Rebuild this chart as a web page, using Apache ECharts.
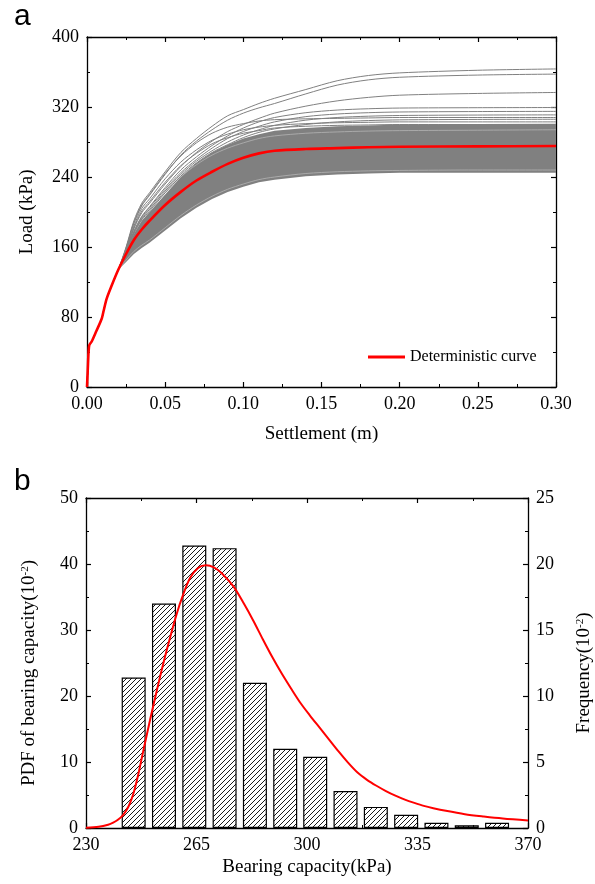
<!DOCTYPE html>
<html><head><meta charset="utf-8">
<script src="https://cdn.jsdelivr.net/npm/echarts@6/dist/echarts.min.js"></script>
<style>html,body{margin:0;padding:0;background:#fff}#c{width:595px;height:884px}</style>
</head><body><div id="c"></div><script>
// ---------- Panel a : load-settlement curves ----------
const initS    = [0, 0.0005, 0.001, 0.0015, 0.003, 0.006, 0.0094, 0.0105, 0.0126, 0.0158];
const initLoad = [0, 20, 40, 48, 52, 64, 78, 86, 101, 116];
const tailS    = [0.02, 0.025, 0.03, 0.035, 0.04, 0.05, 0.06, 0.07, 0.08, 0.09, 0.10, 0.11, 0.12, 0.14, 0.16, 0.18, 0.20, 0.25, 0.30];
const detTail  = [134, 152, 168, 180, 190, 208, 223, 236, 246, 255, 262, 267, 270, 272, 273, 274, 274.5, 275, 275.5];
const bandLower = [134, 143, 152, 159, 165, 179, 193, 205, 215, 223, 229, 234, 237, 241, 243, 244, 245, 245, 245];
const bandUpper = [134, 155, 175, 190, 200, 220, 240, 256, 268, 277, 284, 289, 293, 296, 298, 299, 300, 300.5, 301];
const grayA = [134, 160, 190, 210, 222, 246, 268, 284, 298, 310, 317, 324, 330, 340, 350, 356, 359, 362, 363.5];
const grayB = [134, 158, 187, 207, 219, 243, 265, 281, 294, 305, 313, 319, 324, 335, 345, 351, 354, 356.5, 357.6];
const grayC = [134, 156, 181, 199, 210, 232, 252, 268, 281, 292, 300, 307, 313, 321, 327, 331, 333.5, 335.5, 336.6];
const grayD = [134, 155, 178, 195, 206, 228, 248, 263, 276, 287, 296, 303, 308, 313.5, 316.5, 318, 318.8, 319.2, 319.4];
const grayE = [134, 155, 177, 194, 205, 226, 245, 260, 273, 284, 292, 298, 303, 309, 312, 313.5, 314.3, 314.8, 315];
const grayF = [134, 154, 176, 192, 203, 224, 243, 258, 270, 280, 288, 294, 299, 305, 308, 309.5, 310.3, 310.8, 311];
const grayG = [134, 154, 175, 191, 201, 222, 241, 256, 268, 277, 285, 291, 295, 300, 303, 304.5, 305.3, 305.8, 306];
const grayH = [134, 157, 184, 204, 215, 238, 257, 271, 282, 289, 294, 297, 299, 301, 302, 302.5, 303, 303, 303];
const grayI = [134, 156, 182, 201, 212, 234, 253, 267, 278, 285, 290, 293, 296, 298, 299, 299.5, 300, 300, 300];
const grayJ = [134, 159, 188, 208, 220, 244, 264, 279, 290, 297, 301, 304, 305.5, 306.5, 307, 307.5, 308, 308, 308];
const streakHigh = [134, 155, 178, 193, 203, 222, 240, 254, 265, 273, 279, 284, 287, 290, 291.5, 292.5, 293, 293.5, 294];
const streakLow  = [134, 145, 155, 162, 168, 182, 196, 208, 218, 226, 232, 237, 240, 244, 246, 247, 247.5, 248, 248];
const grayCurves = [grayA, grayB, grayC, grayD, grayE, grayF, grayG, grayH, grayI, grayJ];
const streakCurves = [streakHigh, streakLow];

// ---------- Panel b : bearing capacity distribution ----------
const binCenters = [245.1, 254.7, 264.3, 273.9, 283.5, 293.1, 302.6, 312.2, 321.8, 331.4, 341.0, 350.6, 360.2];
const frequency  = [11.4, 17.0, 21.4, 21.2, 11.0, 6.0, 5.4, 2.8, 1.6, 1.0, 0.4, 0.2, 0.4];
const pdfX = [230, 234, 237, 238.6, 240, 241.8, 243.5, 245, 246.5, 248.2, 250.3, 252.9, 255.6, 258.7, 260.8, 263, 265.5, 268, 270.5, 273, 276.7, 280, 283, 286, 289, 292, 295, 298, 301, 304, 307, 310, 313, 316, 319, 322, 325, 328, 331, 334, 337, 340, 344, 350, 356, 362, 370];
const pdfY = [0.05, 0.2, 0.5, 0.8, 1.2, 2.0, 3.3, 5.2, 8.0, 11.8, 16.4, 21.8, 27.0, 32.4, 35.4, 37.9, 39.4, 39.8, 39.5, 38.6, 36.6, 34.0, 31.4, 28.6, 25.9, 23.4, 21.1, 18.9, 17.0, 15.2, 13.4, 11.6, 9.9, 8.4, 7.3, 6.4, 5.6, 4.9, 4.3, 3.8, 3.35, 3.0, 2.6, 2.1, 1.75, 1.45, 1.15];

const SERIF = '"Liberation Serif","Times New Roman",serif';
const SANS = '"Liberation Sans",Arial,sans-serif';

function withInit(tail) {
  return initS.map((s, i) => [s, initLoad[i]]).concat(tailS.map((s, i) => [s, tail[i]]));
}
function axis(o) {
  return Object.assign({
    type: 'value',
    axisLine: { show: true, onZero: false, lineStyle: { color: '#000', width: 1.3 } },
    axisTick: { show: true, inside: true, length: 5, lineStyle: { color: '#000', width: 1.2 } },
    minorTick: { show: true, splitNumber: 2, length: 3, lineStyle: { color: '#000', width: 1 } },
    splitLine: { show: false },
    axisLabel: { show: true, color: '#000', fontFamily: SERIF, fontSize: 18, margin: 8 },
    nameTextStyle: { color: '#000', fontFamily: SERIF, fontSize: 19 }
  }, o);
}
function hatch() {
  const c = document.createElement('canvas');
  c.width = 5; c.height = 5;
  const g = c.getContext('2d');
  g.fillStyle = '#fff'; g.fillRect(0, 0, 5, 5);
  g.strokeStyle = '#000'; g.lineWidth = 0.9;
  g.beginPath();
  g.moveTo(-1, 6); g.lineTo(6, -1);
  g.moveTo(-1, 1); g.lineTo(1, -1);
  g.moveTo(4, 6); g.lineTo(6, 4);
  g.stroke();
  return c;
}
const supRich = {
  t: { fontFamily: SERIF, fontSize: 19, color: '#000' },
  s: { fontFamily: SERIF, fontSize: 11, color: '#000', verticalAlign: 'top' }
};

const chart = echarts.init(document.getElementById('c'), null, { renderer: 'canvas' });
const series = [];
series.push({
  type: 'custom', xAxisIndex: 0, yAxisIndex: 0, silent: true, z: 1,
  data: [[0.1, 250]],
  renderItem: (params, api) => {
    const pts = [];
    tailS.forEach((s, i) => pts.push(api.coord([s, bandUpper[i]])));
    for (let i = tailS.length - 1; i >= 0; i--) pts.push(api.coord([tailS[i], bandLower[i]]));
    return { type: 'polygon', shape: { points: pts }, style: { fill: '#808080' } };
  }
});
streakCurves.forEach(c => series.push({
  type: 'line', xAxisIndex: 0, yAxisIndex: 0, data: withInit(c), symbol: 'none', smooth: 0.3,
  lineStyle: { color: '#b4b4b4', width: 0.8 }, z: 2, silent: true
}));
grayCurves.forEach(c => series.push({
  type: 'line', xAxisIndex: 0, yAxisIndex: 0, data: withInit(c), symbol: 'none', smooth: 0.3,
  lineStyle: { color: '#808080', width: 1 }, z: 3, silent: true
}));
series.push({
  name: 'Deterministic curve', type: 'line', xAxisIndex: 0, yAxisIndex: 0,
  data: withInit(detTail), symbol: 'none', smooth: 0.3,
  lineStyle: { color: '#ff0000', width: 2.6 }, itemStyle: { color: '#ff0000' }, z: 5
});
series.push({
  type: 'bar', xAxisIndex: 2, yAxisIndex: 3, barWidth: 24,
  data: binCenters.map((x, i) => [x, frequency[i]]),
  itemStyle: { color: { image: hatch(), repeat: 'repeat' }, borderColor: '#000', borderWidth: 1.2 },
  z: 2, silent: true
});
series.push({
  type: 'line', xAxisIndex: 2, yAxisIndex: 2, symbol: 'none', smooth: 0.3,
  data: pdfX.map((x, i) => [x, pdfY[i]]),
  lineStyle: { color: '#ff0000', width: 2 }, z: 4, silent: true
});

chart.setOption({
  animation: false,
  backgroundColor: '#fff',
  grid: [
    { left: 87, top: 37, width: 469, height: 350, outerBoundsMode: 'none', containLabel: false },
    { left: 86, top: 498, width: 442, height: 330, outerBoundsMode: 'none', containLabel: false }
  ],
  xAxis: [
    axis({ gridIndex: 0, position: 'bottom', min: 0, max: 0.3, interval: 0.05,
      axisLabel: { color: '#000', fontFamily: SERIF, fontSize: 18, margin: 8, formatter: v => v.toFixed(2) },
      name: 'Settlement (m)', nameLocation: 'middle', nameGap: 38 }),
    axis({ gridIndex: 0, position: 'top', min: 0, max: 0.3, interval: 0.05, axisLabel: { show: false } }),
    axis({ gridIndex: 1, position: 'bottom', min: 230, max: 370, interval: 35,
      name: 'Bearing capacity(kPa)', nameLocation: 'middle', nameGap: 30 }),
    axis({ gridIndex: 1, position: 'top', min: 230, max: 370, interval: 35, axisLabel: { show: false } })
  ],
  yAxis: [
    axis({ gridIndex: 0, position: 'left', min: 0, max: 400, interval: 80,
      name: 'Load (kPa)', nameLocation: 'middle', nameGap: 50, nameRotate: 90 }),
    axis({ gridIndex: 0, position: 'right', min: 0, max: 400, interval: 80, axisLabel: { show: false } }),
    axis({ gridIndex: 1, position: 'left', min: 0, max: 50, interval: 10,
      name: '{t|PDF of bearing capacity(10}{s|-2}{t|)}', nameLocation: 'middle', nameGap: 47, nameRotate: 90,
      nameTextStyle: { color: '#000', fontFamily: SERIF, fontSize: 19, padding: [0, 20, 0, 0], rich: supRich } }),
    axis({ gridIndex: 1, position: 'right', min: 0, max: 25, interval: 5,
      name: '{t|Frequency(10}{s|-2}{t|)}', nameLocation: 'middle', nameGap: 47, nameRotate: 90,
      nameTextStyle: { color: '#000', fontFamily: SERIF, fontSize: 19, padding: [0, 20, 0, 0], rich: supRich } })
  ],
  legend: {
    data: ['Deterministic curve'], left: 363, top: 344, icon: 'rect', itemWidth: 37, itemHeight: 3,
    textStyle: { color: '#000', fontFamily: SERIF, fontSize: 16 }
  },
  graphic: [
    { type: 'text', left: 14, top: 2, style: { text: 'a', font: '30px ' + SANS, fill: '#000' } },
    { type: 'text', left: 14, top: 467, style: { text: 'b', font: '30px ' + SANS, fill: '#000' } }
  ],
  series: series
});
</script></body></html>
